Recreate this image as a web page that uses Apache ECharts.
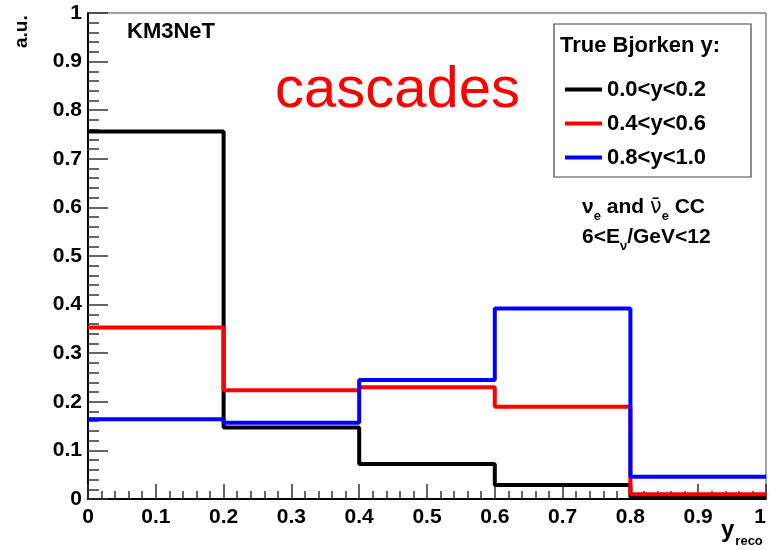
<!DOCTYPE html>
<html>
<head>
<meta charset="utf-8">
<script src="https://cdn.jsdelivr.net/npm/echarts@6/dist/echarts.min.js"></script>
<style>
html,body{margin:0;padding:0;background:#fff;}
#chart{width:769px;height:550px;}
</style>
</head>
<body>
<div id="chart"></div>
<script>
// ---- data ----
const binEdges = [0, 0.2, 0.4, 0.6, 0.8, 1.0];
const seriesNames = ['0.0<y<0.2', '0.4<y<0.6', '0.8<y<1.0'];
const yLow  = [0.756, 0.147, 0.072, 0.029, 0.004];
const yMid  = [0.353, 0.224, 0.230, 0.190, 0.010];
const yHigh = [0.164, 0.157, 0.245, 0.392, 0.046];
const xTickLabels = ['0', '0.1', '0.2', '0.3', '0.4', '0.5', '0.6', '0.7', '0.8', '0.9', '1'];
const yTickLabels = ['0', '0.1', '0.2', '0.3', '0.4', '0.5', '0.6', '0.7', '0.8', '0.9', '1'];

function histData(vals) {
  return binEdges.map((e, i) => [e, vals[Math.min(i, vals.length - 1)]]);
}

const FONT = '"Liberation Sans", Arial, Helvetica, sans-serif';
const chart = echarts.init(document.getElementById('chart'), null, {renderer: 'canvas'});

function lineSeries(name, vals, color) {
  return {
    name: name,
    type: 'line',
    step: 'end',
    data: histData(vals),
    showSymbol: false,
    symbol: 'none',
    lineStyle: {color: color, width: 4},
    itemStyle: {color: color},
    animation: false,
    clip: true
  };
}

const option = {
  animation: false,
  backgroundColor: '#fff',
  grid: {
    left: 88, right: 3, top: 13, bottom: 51,
    containLabel: false,
    outerBoundsMode: 'none',
    show: true, borderColor: '#444', borderWidth: 1
  },
  xAxis: {
    type: 'value', min: 0, max: 1, interval: 0.1,
    axisLine: {show: true, lineStyle: {color: '#000', width: 2}},
    axisTick: {show: true, inside: true, length: 15, lineStyle: {color: '#333', width: 1.5}},
    minorTick: {show: true, splitNumber: 5, length: 8, lineStyle: {color: '#333', width: 1.5}},
    splitLine: {show: false},
    axisLabel: {
      margin: 8, color: '#000', fontFamily: FONT, fontWeight: 'bold', fontSize: 21,
      alignMaxLabel: 'right',
      formatter: (v) => xTickLabels[Math.round(v * 10)]
    }
  },
  yAxis: {
    type: 'value', min: 0, max: 1, interval: 0.1,
    axisLine: {show: true, lineStyle: {color: '#000', width: 2}},
    axisTick: {show: true, inside: true, length: 20, lineStyle: {color: '#333', width: 1.5}},
    minorTick: {show: true, splitNumber: 5, length: 11, lineStyle: {color: '#333', width: 1.5}},
    splitLine: {show: false},
    axisLabel: {
      margin: 6, color: '#000', fontFamily: FONT, fontWeight: 'bold', fontSize: 21,
      formatter: (v) => yTickLabels[Math.round(v * 10)]
    }
  },
  legend: {
    orient: 'vertical',
    left: 560, top: 73,
    itemWidth: 37, itemHeight: 4,
    itemGap: 11,
    icon: 'rect',
    textStyle: {color: '#000', fontFamily: FONT, fontWeight: 'bold', fontSize: 22, lineHeight: 23},
    data: seriesNames
  },
  series: [
    lineSeries(seriesNames[0], yLow, '#000000'),
    lineSeries(seriesNames[1], yMid, '#ff0000'),
    lineSeries(seriesNames[2], yHigh, '#0000ff')
  ],
  graphic: [
    {
      type: 'rect', z: -1,
      shape: {x: 554, y: 24, width: 197, height: 153},
      style: {fill: '#fff', stroke: '#444', lineWidth: 1.2}
    },
    {
      type: 'text', left: 560, top: 35,
      style: {text: 'True Bjorken y:', fill: '#000', font: 'bold 22px ' + FONT}
    },
    {
      type: 'text', left: 127, top: 21,
      style: {text: 'KM3NeT', fill: '#000', font: 'bold 22px ' + FONT}
    },
    {
      type: 'text', left: 275, top: 62,
      style: {text: 'cascades', fill: '#ff0000', font: '58px ' + FONT}
    },
    {
      type: 'text', x: 12, y: 48, rotation: Math.PI / 2,
      style: {text: 'a.u.', fill: '#000', font: 'bold 19px ' + FONT, textAlign: 'left', textVerticalAlign: 'top'}
    },
    {
      type: 'text', left: 721, top: 518,
      style: {
        text: '{y|y}{s|reco}',
        rich: {
          y: {fill: '#000', font: 'bold 24px ' + FONT, verticalAlign: 'bottom'},
          s: {fill: '#000', font: 'bold 13px ' + FONT, padding: [0, 0, -6, 1], verticalAlign: 'bottom'}
        }
      }
    },
    {
      type: 'text', left: 582, top: 197,
      style: {
        text: '{a|\u03bd}{s|e}{a| and }{b|\u03bd\u0304}{s|e}{a| CC}',
        rich: {
          a: {fill: '#000', font: 'bold 21px ' + FONT, verticalAlign: 'bottom'},
          b: {fill: '#000', font: '21px "DejaVu Sans", sans-serif', verticalAlign: 'bottom'},
          s: {fill: '#000', font: 'bold 13px ' + FONT, padding: [0, 0, -5, 0], verticalAlign: 'bottom'}
        }
      }
    },
    {
      type: 'text', left: 582, top: 227,
      style: {
        text: '{a|6<E}{s|\u03bd}{a|/GeV<12}',
        rich: {
          a: {fill: '#000', font: 'bold 21px ' + FONT, verticalAlign: 'bottom'},
          s: {fill: '#000', font: 'bold 13px ' + FONT, padding: [0, 0, -5, 0], verticalAlign: 'bottom'}
        }
      }
    }
  ]
};
chart.setOption(option);
</script>
</body>
</html>
